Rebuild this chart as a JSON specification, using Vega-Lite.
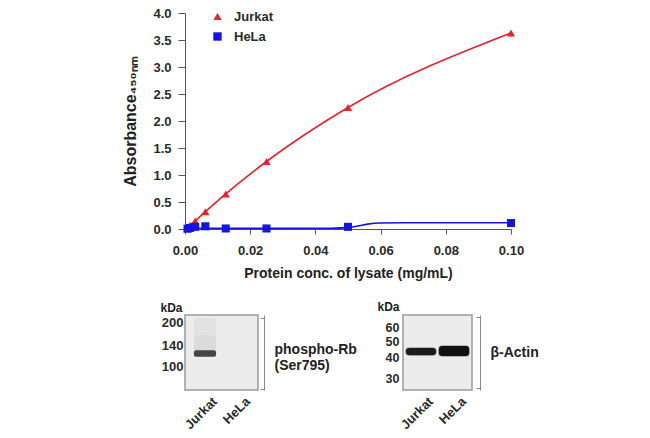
{
  "$schema": "https://vega.github.io/schema/vega-lite/v6.json",
  "background": "white",
  "padding": {"left": 122, "top": 7, "right": 5, "bottom": 5},
  "datasets": {
    "absorbance": [
      {"lysate": "Jurkat", "conc": 0.00078, "absorbance": 0.03},
      {"lysate": "Jurkat", "conc": 0.00156, "absorbance": 0.07},
      {"lysate": "Jurkat", "conc": 0.003125, "absorbance": 0.15},
      {"lysate": "Jurkat", "conc": 0.00625, "absorbance": 0.32},
      {"lysate": "Jurkat", "conc": 0.0125, "absorbance": 0.65},
      {"lysate": "Jurkat", "conc": 0.025, "absorbance": 1.25},
      {"lysate": "Jurkat", "conc": 0.05, "absorbance": 2.25},
      {"lysate": "Jurkat", "conc": 0.1, "absorbance": 3.63},
      {"lysate": "HeLa", "conc": 0.00078, "absorbance": 0.005},
      {"lysate": "HeLa", "conc": 0.00156, "absorbance": 0.02},
      {"lysate": "HeLa", "conc": 0.003125, "absorbance": 0.04},
      {"lysate": "HeLa", "conc": 0.00625, "absorbance": 0.05},
      {"lysate": "HeLa", "conc": 0.0125, "absorbance": 0.01},
      {"lysate": "HeLa", "conc": 0.025, "absorbance": 0.01},
      {"lysate": "HeLa", "conc": 0.05, "absorbance": 0.04},
      {"lysate": "HeLa", "conc": 0.1, "absorbance": 0.11}
    ],
    "hela_fit": [
      {"conc": 0, "absorbance": 0.01},
      {"conc": 0.01, "absorbance": 0.012},
      {"conc": 0.03, "absorbance": 0.012},
      {"conc": 0.045, "absorbance": 0.015},
      {"conc": 0.05, "absorbance": 0.025},
      {"conc": 0.053, "absorbance": 0.055},
      {"conc": 0.056, "absorbance": 0.09},
      {"conc": 0.06, "absorbance": 0.11},
      {"conc": 0.07, "absorbance": 0.115},
      {"conc": 0.1, "absorbance": 0.115}
    ],
    "blot_rb": [
      {"lane": "Jurkat", "upper_kda": 129, "lower_kda": 116, "intensity": 0.8},
      {"lane": "Jurkat", "upper_kda": 165, "lower_kda": 129, "intensity": 0.08},
      {"lane": "Jurkat", "upper_kda": 216, "lower_kda": 165, "intensity": 0.045}
    ],
    "blot_actin": [
      {"lane": "Jurkat", "upper_kda": 45.7, "lower_kda": 41.5, "intensity": 0.95},
      {"lane": "HeLa", "upper_kda": 46.9, "lower_kda": 41.0, "intensity": 1.0}
    ]
  },
  "spacing": 86,
  "bounds": "flush",
  "vconcat": [
    {
      "width": 326,
      "height": 216,
      "encoding": {
        "x": {
          "field": "conc",
          "type": "quantitative",
          "title": "Protein conc. of lysate (mg/mL)",
          "scale": {"domain": [0, 0.1], "nice": false},
          "axis": {
            "values": [0, 0.02, 0.04, 0.06, 0.08, 0.1],
            "format": ".2f",
            "tickSize": 5,
            "labelPadding": 10,
            "titlePadding": 9,
            "labelFlush": false,
            "labelOverlap": false
          }
        },
        "y": {
          "field": "absorbance",
          "type": "quantitative",
          "title": "Absorbance₄₅₀ₙₘ",
          "scale": {"domain": [0, 4], "nice": false},
          "axis": {
            "values": [0, 0.5, 1, 1.5, 2, 2.5, 3, 3.5, 4],
            "format": ".1f",
            "tickSize": 7,
            "labelPadding": 7,
            "titlePadding": 14,
            "titleFontSize": 16,
            "labelFlush": false,
            "labelOverlap": false
          }
        }
      },
      "layer": [
        {
          "data": {"name": "hela_fit"},
          "mark": {"type": "line", "color": "#1414e0", "strokeWidth": 1.6, "interpolate": "monotone"}
        },
        {
          "data": {"name": "absorbance"},
          "transform": [{"filter": "datum.lysate === 'Jurkat'"}],
          "mark": {"type": "line", "color": "#e8212a", "strokeWidth": 1.6, "interpolate": "monotone"}
        },
        {
          "data": {"name": "absorbance"},
          "mark": {"type": "point", "filled": true, "opacity": 1, "size": 65},
          "encoding": {
            "color": {
              "field": "lysate",
              "type": "nominal",
              "title": null,
              "scale": {"domain": ["Jurkat", "HeLa"], "range": ["#e8212a", "#1414e0"]}
            },
            "shape": {
              "field": "lysate",
              "type": "nominal",
              "title": null,
              "scale": {"domain": ["Jurkat", "HeLa"], "range": ["triangle-up", "square"]}
            }
          }
        }
      ]
    },
    {
      "spacing": 145,
      "bounds": "flush",
      "hconcat": [
        {
          "width": 73,
          "height": 75,
          "view": {"fill": "#ececec", "stroke": "#9a9a9a", "strokeWidth": 1.5},
          "data": {"name": "blot_rb"},
          "layer": [
            {
              "mark": {"type": "rect", "color": "#1c1c1c", "cornerRadius": 2},
              "encoding": {
                "x": {
                  "field": "lane",
                  "type": "nominal",
                  "title": null,
                  "scale": {"domain": ["Jurkat", "HeLa"], "paddingInner": 0.33, "paddingOuter": 0.27},
                  "axis": {"domain": false, "ticks": false, "labelAngle": -45, "labelAlign": "right", "labelBaseline": "middle", "labelPadding": 9, "labelOffset": 10}
                },
                "y": {
                  "field": "upper_kda",
                  "type": "quantitative",
                  "scale": {"type": "log", "domain": [68, 227.4], "nice": false},
                  "axis": {"values": [200, 140, 100], "format": "d", "domain": false, "ticks": false, "grid": false, "labelOverlap": false, "labelPadding": 2, "title": "kDa", "titleAngle": 0, "titleAlign": "right", "titleBaseline": "middle", "titleX": -3, "titleY": -8, "titleFontSize": 12}
                },
                "y2": {"field": "lower_kda"},
                "opacity": {"field": "intensity", "type": "quantitative", "scale": null}
              }
            },
            {
              "mark": {"type": "rect", "opacity": 0},
              "encoding": {
                "x": {"field": "lane", "type": "nominal"},
                "y": {
                  "field": "upper_kda",
                  "type": "quantitative",
                  "axis": {"orient": "right", "values": [215, 69.5], "labels": false, "grid": false, "tickSize": -4, "offset": 6, "domainColor": "#888", "tickColor": "#888", "title": ["phospho-Rb", "(Ser795)"], "titleAngle": 0, "titleAlign": "left", "titleBaseline": "middle", "titleX": 10, "titleY": 34.5, "titleLineHeight": 16}
                },
                "y2": {"field": "lower_kda"}
              }
            }
          ],
          "resolve": {"axis": {"y": "independent"}}
        },
        {
          "width": 69,
          "height": 75,
          "view": {"fill": "#ececec", "stroke": "#9a9a9a", "strokeWidth": 1.5},
          "data": {"name": "blot_actin"},
          "layer": [
            {
              "mark": {"type": "rect", "color": "#111111", "cornerRadius": 3, "stroke": "#111111", "strokeWidth": 1.2, "strokeOpacity": 0.5},
              "encoding": {
                "x": {
                  "field": "lane",
                  "type": "nominal",
                  "title": null,
                  "scale": {"domain": ["Jurkat", "HeLa"], "paddingInner": 0.09, "paddingOuter": 0.09},
                  "axis": {"domain": false, "ticks": false, "labelAngle": -45, "labelAlign": "right", "labelBaseline": "middle", "labelPadding": 9, "labelOffset": 10}
                },
                "y": {
                  "field": "upper_kda",
                  "type": "quantitative",
                  "scale": {"type": "log", "domain": [25.8, 71.6], "nice": false},
                  "axis": {"values": [60, 50, 40, 30], "format": "d", "domain": false, "ticks": false, "grid": false, "labelOverlap": false, "labelFontSize": 12.5, "labelPadding": 4, "title": "kDa", "titleAngle": 0, "titleAlign": "right", "titleBaseline": "middle", "titleX": -4, "titleY": -9, "titleFontSize": 12}
                },
                "y2": {"field": "lower_kda"},
                "opacity": {"field": "intensity", "type": "quantitative", "scale": null}
              }
            },
            {
              "mark": {"type": "rect", "opacity": 0},
              "encoding": {
                "x": {"field": "lane", "type": "nominal"},
                "y": {
                  "field": "upper_kda",
                  "type": "quantitative",
                  "axis": {"orient": "right", "values": [70, 26.5], "labels": false, "grid": false, "tickSize": -4, "offset": 8, "domainColor": "#888", "tickColor": "#888", "title": "β-Actin", "titleAngle": 0, "titleAlign": "left", "titleBaseline": "middle", "titleX": 10, "titleY": 37}
                },
                "y2": {"field": "lower_kda"}
              }
            }
          ],
          "resolve": {"axis": {"y": "independent"}}
        }
      ]
    }
  ],
  "config": {
    "font": "Liberation Sans",
    "view": {"stroke": null},
    "axis": {
      "grid": false,
      "domainColor": "#555555",
      "tickColor": "#555555",
      "labelColor": "#2a2a2a",
      "titleColor": "#222222",
      "labelFontSize": 13,
      "labelFontWeight": "bold",
      "titleFontSize": 14,
      "titleFontWeight": "bold"
    },
    "legend": {
      "orient": "none",
      "legendX": 26,
      "legendY": -3,
      "padding": 0,
      "symbolSize": 70,
      "symbolStrokeWidth": 0,
      "labelFontSize": 13,
      "labelFontWeight": "bold",
      "labelColor": "#2a2a2a",
      "labelOffset": 10,
      "rowPadding": 6
    }
  }
}
